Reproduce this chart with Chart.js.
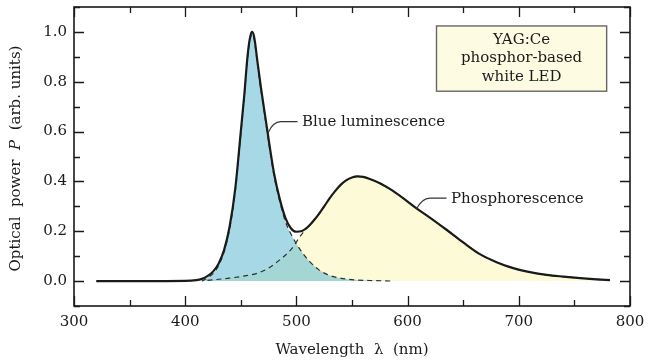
<!DOCTYPE html>
<html>
<head>
<meta charset="utf-8">
<script src="https://cdn.jsdelivr.net/npm/chart.js@4.4.1/dist/chart.umd.min.js"></script>
<style>
  html, body { margin: 0; padding: 0; background: #ffffff; }
  #wrap { width: 651px; height: 362px; }
</style>
</head>
<body>
<div id="wrap"><canvas id="spectrum" width="651" height="362"></canvas></div>
<script>
// Emission spectrum of a YAG:Ce phosphor-based white LED (normalised optical power).
const wavelengthTotal = [320, 360, 400, 410, 415, 420, 425, 430, 435, 440, 445, 450, 453, 456, 458, 460, 462, 465, 468, 472, 476, 480, 485, 490, 495, 500, 505, 510, 515, 520, 525, 530, 535, 540, 545, 550, 555, 560, 566, 575, 584, 595, 608, 620, 635, 650, 665, 680, 695, 710, 725, 740, 755, 770, 782];
const powerTotal = [0, 0, 0.001, 0.004, 0.009, 0.02, 0.038, 0.07, 0.125, 0.22, 0.37, 0.6, 0.74, 0.9, 0.97, 1.0, 0.98, 0.88, 0.78, 0.66, 0.54, 0.43, 0.33, 0.255, 0.212, 0.198, 0.201, 0.216, 0.24, 0.268, 0.3, 0.333, 0.362, 0.387, 0.405, 0.416, 0.42, 0.418, 0.41, 0.393, 0.37, 0.336, 0.292, 0.255, 0.206, 0.155, 0.108, 0.076, 0.052, 0.036, 0.025, 0.018, 0.012, 0.007, 0.004];

// Blue InGaN emission component
const wavelengthBlue = [415, 420, 425, 430, 435, 440, 445, 450, 453, 456, 458, 460, 462, 465, 468, 472, 476, 480, 485, 490, 495, 500, 506, 512, 520, 528, 535, 545, 555, 570, 588];
const powerBlue = [0, 0.012, 0.03, 0.062, 0.117, 0.21, 0.36, 0.59, 0.73, 0.89, 0.96, 0.99, 0.97, 0.87, 0.77, 0.65, 0.53, 0.42, 0.32, 0.24, 0.19, 0.15, 0.11, 0.078, 0.046, 0.026, 0.016, 0.008, 0.004, 0.002, 0];

// Yellow phosphorescence component
const wavelengthPhosphor = [420, 440, 455, 465, 475, 485, 492, 498, 503, 507, 510, 515, 520, 525, 530, 535, 540, 545, 550, 555, 560, 566, 575, 584, 595, 608, 620, 635, 650, 665, 680, 695, 710, 725, 740, 755, 770, 782];
const powerPhosphor = [0.003, 0.012, 0.022, 0.032, 0.052, 0.085, 0.112, 0.143, 0.178, 0.2, 0.216, 0.24, 0.268, 0.3, 0.333, 0.362, 0.387, 0.405, 0.416, 0.42, 0.418, 0.41, 0.393, 0.37, 0.336, 0.292, 0.255, 0.206, 0.155, 0.108, 0.076, 0.052, 0.036, 0.025, 0.018, 0.012, 0.007, 0.004];

const xTickLabels = [300, 400, 500, 600, 700, 800];
const yTickLabels = [0.0, 0.2, 0.4, 0.6, 0.8, 1.0];
const xMinorStep = 50;
const yMinorStep = 0.1;

const boxLines = ['YAG:Ce', 'phosphor-based', 'white LED'];

const SERIF = '"DejaVu Serif", "Liberation Serif", serif';
const INK = '#1a1a1a';

function toPoints(xs, ys) {
  return xs.map((x, i) => ({ x: x, y: ys[i] }));
}

// Frame, inward tick marks, rotated y title, callouts and the caption box.
const decorations = {
  id: 'decorations',
  afterDatasetsDraw(chart) {
    const { ctx, chartArea: a, scales: { x, y } } = chart;
    ctx.save();
    ctx.strokeStyle = INK;
    ctx.lineCap = 'butt';

    // plot frame
    ctx.lineWidth = 1.6;
    ctx.strokeRect(a.left, a.top, a.right - a.left, a.bottom - a.top);

    // tick marks pointing into the plot on all four sides
    ctx.lineWidth = 1.3;
    ctx.beginPath();
    for (let v = x.min; v <= x.max + 1e-9; v += xMinorStep) {
      const px = Math.round(x.getPixelForValue(v)) + 0.5;
      const len = xTickLabels.includes(Math.round(v)) ? 10 : 6;
      ctx.moveTo(px, a.bottom); ctx.lineTo(px, a.bottom - len);
      ctx.moveTo(px, a.top); ctx.lineTo(px, a.top + len);
    }
    for (let k = -1; k <= 11; k++) {
      const v = k * yMinorStep;
      if (v < y.min - 1e-9 || v > y.max + 1e-9) continue;
      const py = Math.round(y.getPixelForValue(v)) + 0.5;
      const len = (k % 2 === 0) ? 10 : 6;
      ctx.moveTo(a.left, py); ctx.lineTo(a.left + len, py);
      ctx.moveTo(a.right, py); ctx.lineTo(a.right - len, py);
    }
    ctx.stroke();

    // y axis title with italic symbol
    ctx.fillStyle = INK;
    ctx.textBaseline = 'middle';
    const parts = [
      { t: 'Optical  power  ', f: '15px ' + SERIF },
      { t: 'P', f: 'italic 15px ' + SERIF },
      { t: '  (arb. units)', f: '15px ' + SERIF }
    ];
    let total = 0;
    parts.forEach(p => { ctx.font = p.f; p.w = ctx.measureText(p.t).width; total += p.w; });
    ctx.save();
    ctx.translate(16, y.getPixelForValue(0.5) + 2);
    ctx.rotate(-Math.PI / 2);
    let cx = -total / 2;
    ctx.textAlign = 'left';
    parts.forEach(p => { ctx.font = p.f; ctx.fillText(p.t, cx, 0); cx += p.w; });
    ctx.restore();

    // callout: blue luminescence
    ctx.lineWidth = 1.1;
    ctx.strokeStyle = '#333';
    ctx.beginPath();
    ctx.moveTo(x.getPixelForValue(474.5), y.getPixelForValue(0.595));
    ctx.quadraticCurveTo(x.getPixelForValue(479), y.getPixelForValue(0.64),
                         x.getPixelForValue(486), y.getPixelForValue(0.64));
    ctx.lineTo(x.getPixelForValue(501), y.getPixelForValue(0.64));
    ctx.stroke();
    ctx.font = '15px ' + SERIF;
    ctx.textAlign = 'left';
    ctx.fillText('Blue luminescence', x.getPixelForValue(505), y.getPixelForValue(0.638));

    // callout: phosphorescence
    ctx.beginPath();
    ctx.moveTo(x.getPixelForValue(608), y.getPixelForValue(0.289));
    ctx.quadraticCurveTo(x.getPixelForValue(613), y.getPixelForValue(0.333),
                         x.getPixelForValue(620), y.getPixelForValue(0.333));
    ctx.lineTo(x.getPixelForValue(635), y.getPixelForValue(0.333));
    ctx.stroke();
    ctx.fillText('Phosphorescence', x.getPixelForValue(639), y.getPixelForValue(0.33));

    // caption box
    const bx0 = x.getPixelForValue(626), bx1 = x.getPixelForValue(779);
    const by0 = y.getPixelForValue(1.024), by1 = y.getPixelForValue(0.762);
    ctx.fillStyle = '#fdfce3';
    ctx.fillRect(bx0, by0, bx1 - bx0, by1 - by0);
    ctx.strokeStyle = '#666';
    ctx.lineWidth = 1.4;
    ctx.strokeRect(bx0, by0, bx1 - bx0, by1 - by0);
    ctx.fillStyle = INK;
    ctx.textAlign = 'center';
    const mid = (bx0 + bx1) / 2;
    const lh = 18.5;
    const top = (by0 + by1) / 2 - lh;
    boxLines.forEach((s, i) => ctx.fillText(s, mid, top + i * lh));

    ctx.restore();
  }
};

new Chart(document.getElementById('spectrum'), {
  type: 'line',
  data: {
    datasets: [
      {
        label: 'Total',
        data: toPoints(wavelengthTotal, powerTotal),
        borderColor: '#1a1a1a',
        borderWidth: 2.2,
        fill: false,
        pointRadius: 0,
        cubicInterpolationMode: 'monotone',
        order: 0
      },
      {
        label: 'Blue luminescence',
        data: toPoints(wavelengthBlue, powerBlue),
        borderColor: '#2e2e2e',
        borderWidth: 1.2,
        borderDash: [5, 4],
        backgroundColor: 'rgba(107, 190, 213, 0.6)',
        fill: 'origin',
        pointRadius: 0,
        cubicInterpolationMode: 'monotone',
        order: 1
      },
      {
        label: 'Phosphorescence',
        data: toPoints(wavelengthPhosphor, powerPhosphor),
        borderColor: '#2e2e2e',
        borderWidth: 1.2,
        borderDash: [5, 4],
        backgroundColor: 'rgb(253, 251, 215)',
        fill: 'origin',
        pointRadius: 0,
        cubicInterpolationMode: 'monotone',
        order: 2
      }
    ]
  },
  options: {
    responsive: false,
    animation: false,
    devicePixelRatio: 1,
    layout: { padding: { top: 7, right: 21, left: 0, bottom: 0 } },
    plugins: {
      legend: { display: false },
      tooltip: { enabled: false },
      filler: { drawTime: 'beforeDatasetsDraw' }
    },
    scales: {
      x: {
        type: 'linear',
        min: 300,
        max: 800,
        border: { display: false },
        grid: { display: false, drawTicks: false },
        afterBuildTicks(scale) { scale.ticks = xTickLabels.map(v => ({ value: v })); },
        afterFit(scale) {
          scale.height = 56;
          scale.paddingLeft = 0;
          scale.paddingRight = 0;
        },
        ticks: {
          padding: 7,
          color: INK,
          font: { family: SERIF, size: 15 },
          maxRotation: 0,
          autoSkip: false,
          callback: v => String(v)
        },
        title: {
          display: true,
          text: 'Wavelength  λ  (nm)',
          color: INK,
          font: { family: SERIF, size: 15 },
          padding: { top: 0, bottom: 3 }
        }
      },
      y: {
        min: -0.1,
        max: 1.1,
        border: { display: false },
        grid: { display: false, drawTicks: false },
        afterBuildTicks(scale) { scale.ticks = yTickLabels.map(v => ({ value: v })); },
        afterFit(scale) {
          scale.width = 74;
          scale.paddingTop = 0;
          scale.paddingBottom = 0;
        },
        ticks: {
          padding: 7,
          color: INK,
          font: { family: SERIF, size: 15 },
          autoSkip: false,
          callback: v => v.toFixed(1)
        }
      }
    }
  },
  plugins: [decorations]
});
</script>
</body>
</html>
